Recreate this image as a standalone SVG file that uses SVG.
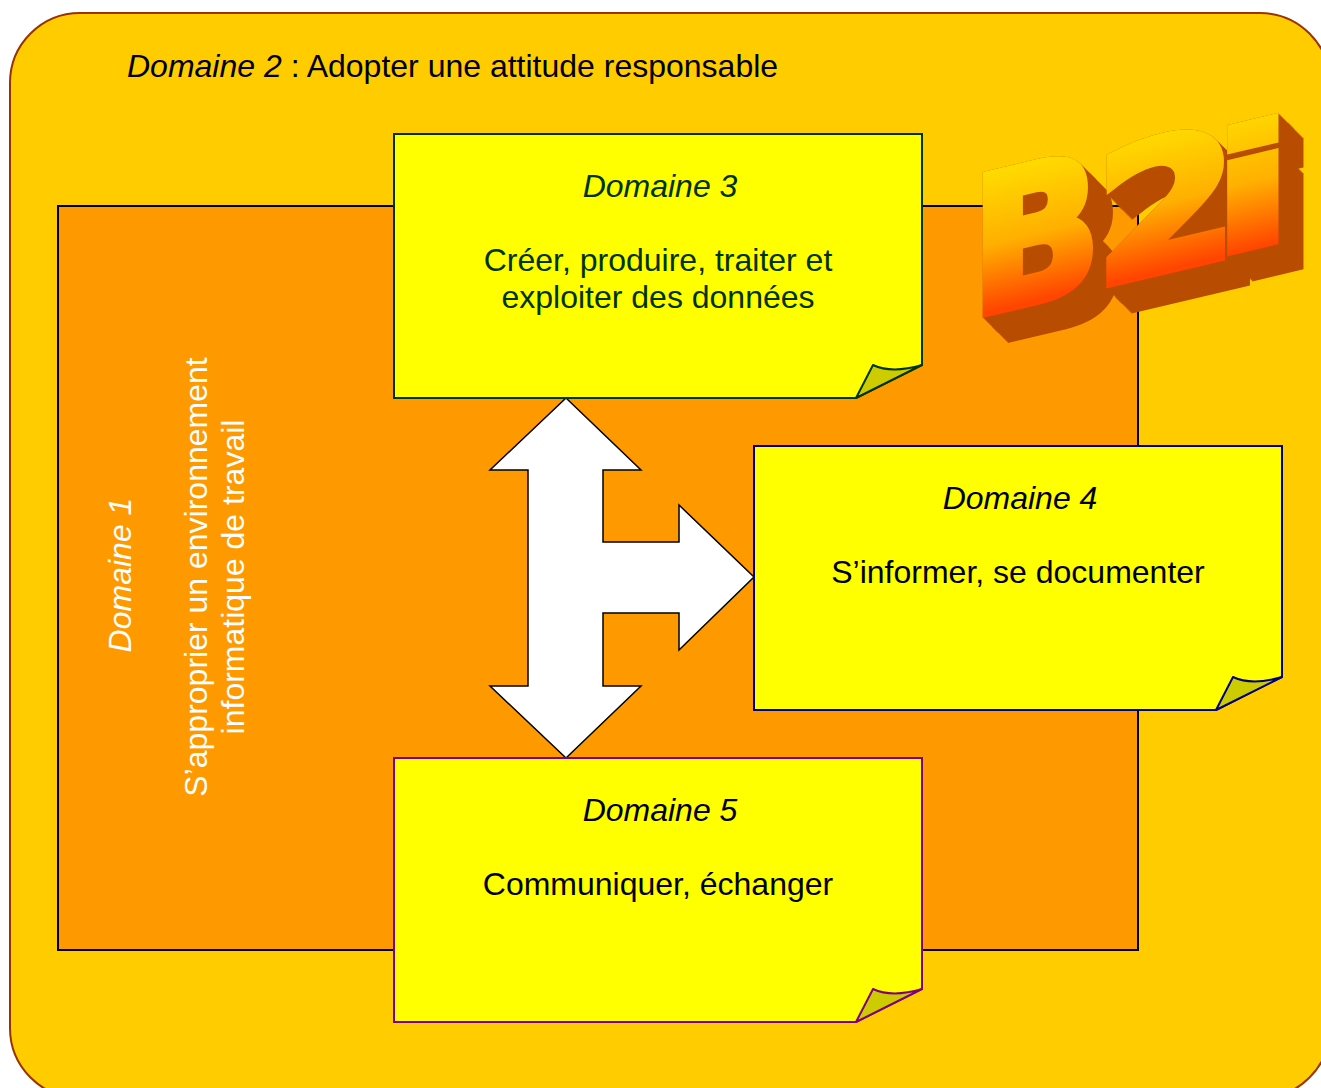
<svg xmlns="http://www.w3.org/2000/svg" width="1321" height="1088" viewBox="0 0 1321 1088">
<style>
text{font-family:"Liberation Sans",Arial,sans-serif;font-size:32px}
.c{text-anchor:middle}
.i{font-style:italic}
.note{fill:#ffff00;stroke-width:2}
.fold{fill:#cccc00;stroke-width:2;stroke-linejoin:round}
.w{fill:#ffffff}
</style>
<defs>
<linearGradient id="wa" gradientUnits="userSpaceOnUse" x1="0" y1="-150" x2="0" y2="0">
<stop offset="0" stop-color="#ffe000"/><stop offset="0.55" stop-color="#ffb000"/><stop offset="1" stop-color="#ff4500"/>
</linearGradient>
<filter id="ex" filterUnits="userSpaceOnUse" x="950" y="90" width="371" height="280" color-interpolation-filters="sRGB">
<feOffset in="SourceAlpha" dx="1" dy="1" result="o1"/>
<feMerge result="a1"><feMergeNode in="SourceAlpha"/><feMergeNode in="o1"/></feMerge>
<feOffset in="a1" dx="2" dy="2" result="o2"/>
<feMerge result="a2"><feMergeNode in="a1"/><feMergeNode in="o2"/></feMerge>
<feOffset in="a2" dx="4" dy="4" result="o3"/>
<feMerge result="a3"><feMergeNode in="a2"/><feMergeNode in="o3"/></feMerge>
<feOffset in="a3" dx="8" dy="8" result="o4"/>
<feMerge result="a4"><feMergeNode in="a3"/><feMergeNode in="o4"/></feMerge>
<feOffset in="a4" dx="10" dy="10" result="o5"/>
<feMerge result="a5"><feMergeNode in="a4"/><feMergeNode in="o5"/></feMerge>
<feFlood flood-color="#b84c00"/>
<feComposite in2="a5" operator="in" result="side"/>
<feMerge><feMergeNode in="side"/><feMergeNode in="SourceGraphic"/></feMerge>
</filter>
</defs>
<rect id="background" x="10" y="13" width="1320" height="1085" rx="70" ry="70" fill="#ffcc00" stroke="#993300" stroke-width="2"/>
<text id="title" x="127" y="77"><tspan class="i">Domaine 2</tspan> : Adopter une attitude responsable</text>
<g id="domaine1">
<rect x="58" y="206" width="1080" height="744" fill="#ff9900" stroke="#000" stroke-width="2"/>
<g transform="translate(131 575) rotate(-90)"><text class="c i w" x="0" y="0">Domaine 1</text></g>
<g transform="translate(207 577) rotate(-90)"><text class="c w" x="0" y="0">S’approprier un environnement</text></g>
<g transform="translate(244 577) rotate(-90)"><text class="c w" x="0" y="0">informatique de travail</text></g>
</g>
<g id="connectors">
<polygon points="566,398 641,470 603,470 603,542 679,542 679,505 754,577 679,650 679,613 603,613 603,686 641,686 566,758 490,686 528,686 528,470 490,470" fill="#fff" stroke="#000" stroke-width="1.5"/>
</g>
<g id="domaine3" stroke="#003300">
<path class="note" d="M394,134H922V365L856,398H394Z"/>
<path class="fold" d="M856,398L873,365C888,372 905,370 922,365Z"/>
<g stroke="none" fill="#003300">
<text class="c i" x="660" y="197">Domaine 3</text>
<text class="c" x="658" y="271">Créer, produire, traiter et</text>
<text class="c" x="658" y="308">exploiter des données</text>
</g>
</g>
<g id="domaine4" stroke="#000080">
<path class="note" d="M754,446H1282V677L1216,710H754Z"/>
<path class="fold" d="M1216,710L1233,677C1248,684 1265,682 1282,677Z"/>
<g stroke="none" fill="#000">
<text class="c i" x="1020" y="509">Domaine 4</text>
<text class="c" x="1018" y="583">S’informer, se documenter</text>
</g>
</g>
<g id="domaine5" stroke="#800080">
<path class="note" d="M394,758H922V989L856,1022H394Z"/>
<path class="fold" d="M856,1022L873,989C888,996 905,994 922,989Z"/>
<g stroke="none" fill="#000">
<text class="c i" x="660" y="821">Domaine 5</text>
<text class="c" x="658" y="895">Communiquer, échanger</text>
</g>
</g>
<g id="b2i" filter="url(#ex)">
<text transform="matrix(0.8 -0.19 0 1 972 316)" style="font-family:'DejaVu Sans',sans-serif;font-weight:700;font-size:188px;stroke-linejoin:miter" fill="url(#wa)" stroke="url(#wa)" stroke-width="9" x="0" y="0"><tspan x="-1" y="0" textLength="162" lengthAdjust="spacingAndGlyphs">B</tspan><tspan x="154" y="0" font-size="180" textLength="178" lengthAdjust="spacingAndGlyphs">2</tspan><tspan x="299" y="-2" font-size="165" textLength="104" lengthAdjust="spacingAndGlyphs" stroke-width="6">i</tspan></text>
</g>
</svg>
